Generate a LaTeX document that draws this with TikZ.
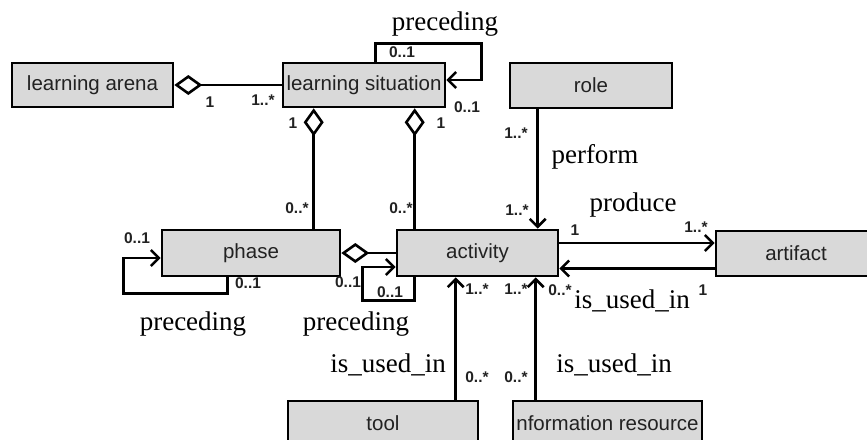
\documentclass[tikz,border=0pt]{standalone}
\usepackage{fontspec}
\setmainfont{Liberation Serif}
\setsansfont{Liberation Sans}
\usetikzlibrary{arrows.meta}
\definecolor{boxgrey}{RGB}{217,217,217}
\definecolor{inkgrey}{RGB}{34,34,34}
\begin{document}
\begin{tikzpicture}
  [x=1pt,y=-1pt,line width=2.6pt,every node/.style={inner sep=0pt}]
  \tikzstyle{box} = [draw,fill=boxgrey,rectangle,text=inkgrey,font=\sffamily\fontsize{20.5}{24}\selectfont]
  \tikzstyle{mult} = [text=inkgrey,font=\sffamily\bfseries\fontsize{15.5}{17}\selectfont]
  \tikzstyle{rel} = [font=\fontsize{27}{30}\selectfont]
  \tikzstyle{assoc} = [-{Straight Barb[length=8pt,width=16pt]}]
  \tikzstyle{agg} = [{Diamond[open,length=28pt,width=20pt]}-]
  \useasboundingbox (0,0) rectangle (867,439);
  \clip (0,0) rectangle (867,439);

  \node[box,minimum width=161,minimum height=44] (arena) at (92.5,85) {learning arena};
  \node[box,minimum width=162,minimum height=44] (situation) at (364,85) {learning situation};
  \node[box,minimum width=162,minimum height=45] (role) at (591,85.5) {role};
  \node[box,minimum width=178,minimum height=46] (phase) at (251,253) {phase};
  \node[box,minimum width=161,minimum height=46] (activity) at (477.5,253) {activity};
  \node[box,minimum width=160,minimum height=45] (artifact) at (796,253.5) {artifact};
  \node[box,minimum width=190,minimum height=44] (tool) at (383,423) {tool};
  \node[box,minimum width=189,minimum height=44] (resource) at (607.5,423) {nformation resource};

\foreach \name/\x/\y/\txt in {m1/210/102/1, m2/263/100/1..*, m3/402/52/0..1, m4/467/107/0..1,
    m5/293/123/1, m6/441/123/1, m7/297/208/0..*, m8/401/208/0..*, m9/137/238/0..1,
    m10/248/283/0..1, m11/348/282/0..1, m12/390/292/0..1, m13/516/133/1..*, m14/517/210/1..*,
    m15/575/230/1, m16/696/227/1..*, m17/560/290/0..*, m18/703/290/1, m19/477/289/1..*,
    m20/516/289/1..*, m21/477/377/0..*, m22/516/377/0..*}
   \node[mult] (\name) at (\x,\y) {\txt};
\foreach \name/\x/\y/\txt in {l1/445/24/preceding, l2/193/324/preceding, l3/356/324/preceding,
    l4/595/157/perform, l5/633/205/produce, l6/632/301/is\_used\_in, l7/388/365/is\_used\_in,
    l8/614/365/is\_used\_in}
   \node[rel] (\name) at (\x,\y) {\txt};

  \coordinate (s1) at ([xshift=32]situation.south west);
  \coordinate (s2) at ([xshift=133]situation.south west);
  \coordinate (r1) at ([xshift=29]role.south west);
  \coordinate (t1) at ([xshift=169]tool.north west);
  \coordinate (i1) at ([xshift=24]resource.north west);
  \coordinate (p1) at ([yshift=10]activity.east);
  \coordinate (p2) at ([yshift=-15]artifact.west);

  \draw[agg] (arena.east) -- (situation.west);
  \draw[agg] (s1) -- (s1 |- phase.north);
  \draw[agg] (s2) -- (s2 |- activity.north);
  \draw[agg] (phase.east) -- (phase.east -| activity.west);
  \draw[assoc] ([xshift=94]situation.north west) -- ++(0,-18) -- ++(106,0) |- ([yshift=5]situation.east);
  \draw[assoc] ([xshift=67]phase.south west) -- ++(0,16) -- ++(-104,0) |- ([yshift=-5]phase.west);
  \draw[assoc] ([xshift=19]activity.south west) -- ++(0,23) -- ++(-52,0) |- ([yshift=-14]activity.west);
  \draw[assoc] (r1) -- (r1 |- activity.north);
  \draw[assoc] (p1) -- (p1 -| artifact.west);
  \draw[assoc] (p2) -- (p2 -| activity.east);
  \draw[assoc] (t1) -- (t1 |- activity.south);
  \draw[assoc] (i1) -- (i1 |- activity.south);
\end{tikzpicture}
\end{document}
